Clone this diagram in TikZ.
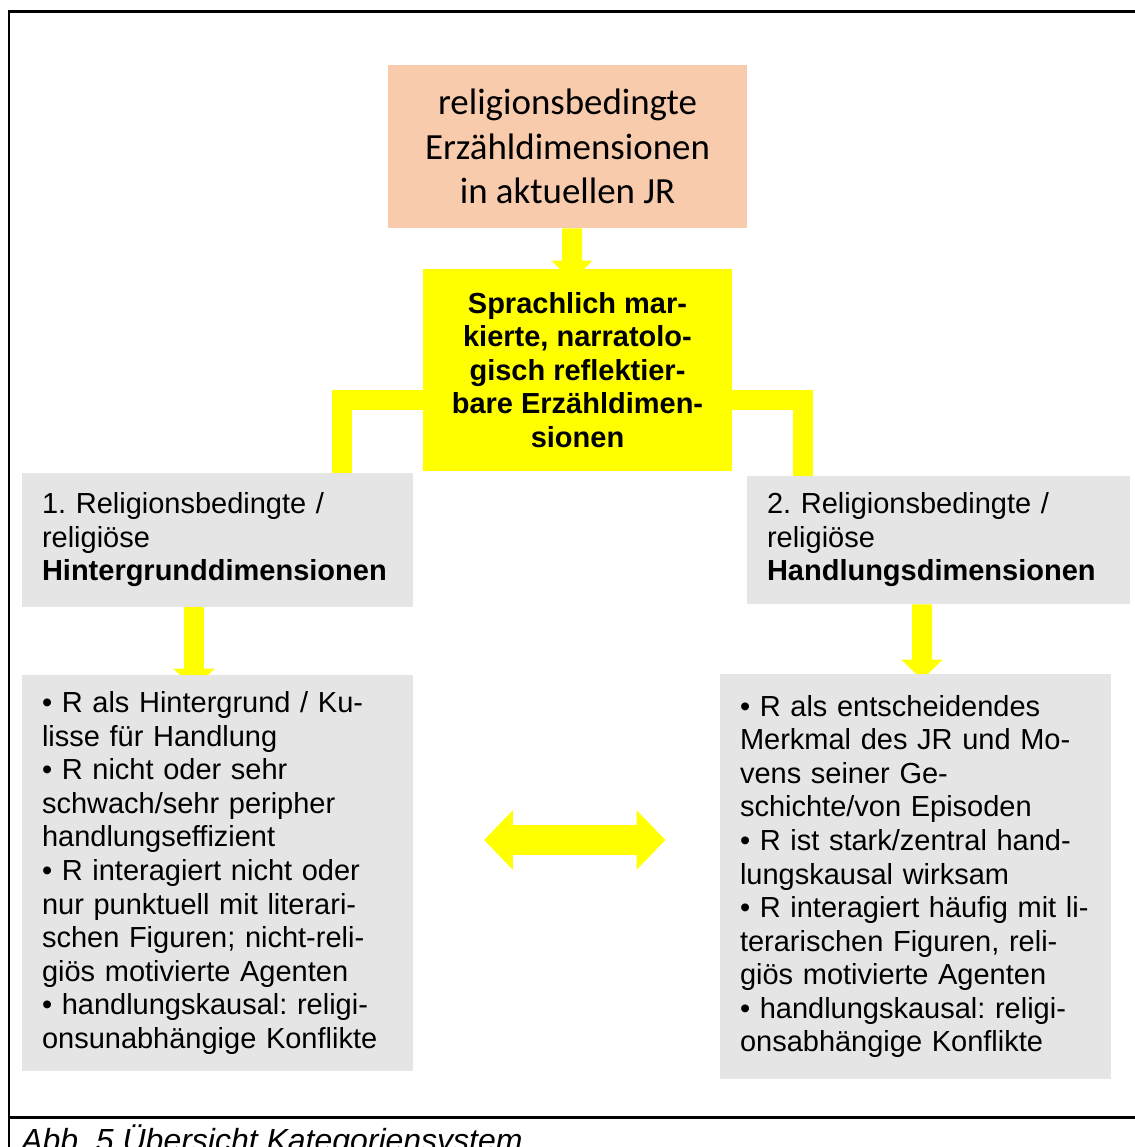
\documentclass[tikz,border=0pt]{standalone}
\usepackage{fontspec}
\setmainfont{Liberation Sans}
\newfontfamily\calibri{Carlito}
\usepackage{xcolor}
\usetikzlibrary{positioning, arrows.meta, backgrounds}
\definecolor{peach}{HTML}{F8CBAD}
\definecolor{boxgray}{HTML}{E5E5E5}
\definecolor{signal}{RGB}{255,255,0}
\frenchspacing

\begin{document}
\begin{tikzpicture}[x=0.02cm, y=-0.02cm,
  topbox/.style={fill=peach, minimum width=7.18cm, minimum height=3.26cm, inner sep=0pt,
    align=center, font=\calibri\fontsize{21}{25.5}\selectfont},
  corebox/.style={fill=signal, minimum width=6.18cm, minimum height=4.04cm, inner sep=0pt,
    align=center, font=\bfseries\fontsize{16.5}{19.1}\selectfont},
  dimbox/.style={fill=boxgray, text width=7.02cm, inner xsep=0.4cm, inner ysep=0pt,
    align=left, font=\fontsize{16.5}{19.1}\selectfont},
  bar/.style={signal, line width=0.4cm},
  blockarrow/.style={signal, line width=0.4cm, -{Triangle[length=0.4cm, width=0.8cm]}},
  frame/.style={line width=0.06cm}]

\useasboundingbox (0,0) rectangle (1134,1147);

\node[topbox] (root) at (567.5,146.5) {religionsbedingte\\Erzähldimensionen\\in aktuellen JR};
\node[corebox] (core) at (577.5,370) {Sprachlich mar-\\kierte, narratolo-\\gisch reflektier-\\bare Erzähldimen-\\sionen};

\node[dimbox, minimum height=2.68cm] (bgdim) at (217.5,540)
  {1. Religionsbedingte /\\religiöse\\\textbf{Hintergrunddimensionen}};
\node[dimbox, text width=6.86cm, minimum height=2.56cm] (actdim) at (938.5,540)
  {2. Religionsbedingte /\\religiöse\\\textbf{Handlungsdimensionen}};

\node[dimbox, minimum height=7.92cm] (bglist) at (217.5,873)
  {• R als Hintergrund / Ku-\\lisse für Handlung\\• R nicht oder sehr\\schwach/sehr peripher\\handlungseffizient\\• R interagiert nicht oder\\nur punktuell mit literari-\\schen Figuren; nicht-reli-\\giös motivierte Agenten\\• handlungskausal: religi-\\onsunabhängige Konflikte};
\node[dimbox, minimum height=8.1cm] (actlist) at (915.5,876.5)
  {• R als entscheidendes\\Merkmal des JR und Mo-\\vens seiner Ge-\\schichte/von Episoden\\• R ist stark/zentral hand-\\lungskausal wirksam\\• R interagiert häufig mit li-\\terarischen Figuren, reli-\\giös motivierte Agenten\\• handlungskausal: religi-\\onsabhängige Konflikte};

\begin{scope}[on background layer]
\draw[blockarrow] ([xshift=0.09cm]root.south) -- ([xshift=-0.11cm,yshift=-0.24cm]core.north);
\draw[blockarrow] ([xshift=-0.47cm]bgdim.south) -- ([xshift=-0.47cm,yshift=-0.28cm]bglist.north);
\draw[blockarrow] ([xshift=-0.33cm]actdim.south) -- ([xshift=0.13cm,yshift=-0.12cm]actlist.north);
\end{scope}

\draw[bar] ([yshift=-0.59cm]core.west) -| ([xshift=2.5cm]bgdim.north);
\draw[bar] ([yshift=-0.59cm]core.east) -| ([xshift=-2.72cm]actdim.north);

\coordinate (swapL) at (484,840);
\coordinate (swapR) at (665.5,840);
\draw[signal, line width=0.6cm, {Triangle[length=0.58cm, width=1.16cm]}-{Triangle[length=0.58cm, width=1.16cm]}] (swapL) -- (swapR);

\draw[frame] (1140,11) -- (9,11) -- (9,1150);
\draw[frame] (9,1117) -- (1140,1117);
\node[anchor=base west, inner sep=0pt, font=\itshape\fontsize{18.2}{22}\selectfont] (caption) at (21,1151) {Abb. 5 Übersicht Kategoriensystem};

\end{tikzpicture}
\end{document}
